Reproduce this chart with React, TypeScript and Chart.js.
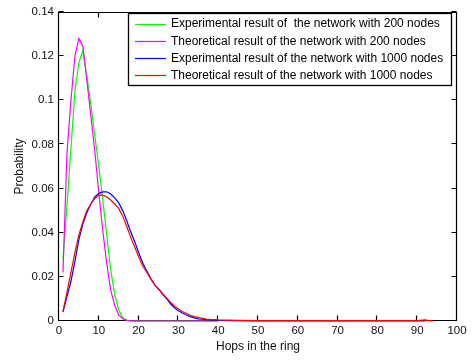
import React, { useEffect, useRef } from 'react';
import { Chart, registerables } from 'chart.js';

Chart.register(...registerables);

const legendLabels = [
  'Experimental result of  the network with 200 nodes',
  'Theoretical result of the network with 200 nodes',
  'Experimental result of the network with 1000 nodes',
  'Theoretical result of the network with 1000 nodes',
];
const seriesColors = ['#00ff00', '#ff00ff', '#0000ff', '#ff0000'];

const xTicks = [0, 10, 20, 30, 40, 50, 60, 70, 80, 90, 100];
const yTicks = [0, 0.02, 0.04, 0.06, 0.08, 0.1, 0.12, 0.14];

const hops200 = [1, 2, 3, 4, 5, 6, 7, 8, 9, 10, 11, 12, 13, 14, 15, 16, 17, 18, 19, 20, 25, 30, 35, 40];
const exp200 = [0.028, 0.052, 0.078, 0.104, 0.117, 0.1225, 0.111, 0.098, 0.084, 0.07, 0.055, 0.039, 0.023, 0.012, 0.005, 0.0015, 0.0004, 0.0001, 0, 0, 0, 0, 0, 0];
const theo200 = [0.022, 0.076, 0.1, 0.12, 0.128, 0.1245, 0.109, 0.093, 0.077, 0.058, 0.041, 0.026, 0.014, 0.007, 0.0028, 0.001, 0.0003, 0.0001, 0, 0, 0, 0, 0, 0];

const hopsExp1000 = [1, 2, 3, 4, 5, 6, 7, 8, 9, 10, 11, 12, 13, 14, 15, 16, 17, 18, 19, 20, 21, 22, 23, 24, 25, 26, 27, 28, 29, 30, 31, 32, 33, 34, 35, 36, 37, 38, 39, 40, 45, 50, 60, 70, 80, 90, 92];
const exp1000 = [0.004, 0.011, 0.018, 0.027, 0.037, 0.044, 0.049, 0.053, 0.0562, 0.0578, 0.0585, 0.0585, 0.0575, 0.0558, 0.0535, 0.05, 0.0455, 0.0405, 0.036, 0.031, 0.0265, 0.0228, 0.0195, 0.0165, 0.0145, 0.0122, 0.0102, 0.0078, 0.006, 0.0046, 0.0036, 0.0027, 0.002, 0.0014, 0.001, 0.0008, 0.0006, 0.0005, 0.0004, 0.0003, 0.0002, 0.0001, 0.0001, 0.0001, 0.0001, 0.0001, 0.0001];

const hopsTheo1000 = [1, 2, 3, 4, 5, 6, 7, 8, 9, 10, 11, 12, 13, 14, 15, 16, 17, 18, 19, 20, 21, 22, 23, 24, 25, 26, 27, 28, 29, 30, 31, 32, 33, 34, 35, 36, 37, 38, 39, 40, 45, 50, 60, 70, 80, 90, 92, 93, 94];
const theo1000 = [0.0045, 0.013, 0.022, 0.031, 0.039, 0.045, 0.05, 0.053, 0.0555, 0.057, 0.057, 0.0562, 0.0548, 0.053, 0.051, 0.0475, 0.043, 0.038, 0.0335, 0.0292, 0.025, 0.0222, 0.0192, 0.0165, 0.0145, 0.0125, 0.0105, 0.0085, 0.0068, 0.0054, 0.0043, 0.0034, 0.0026, 0.002, 0.0015, 0.0012, 0.0009, 0.0007, 0.0006, 0.0005, 0.0003, 0.0002, 0.0002, 0.0002, 0.0002, 0.0002, 0.0005, 0.0002, 0];

const FONT = "'Liberation Sans', Arial, Helvetica, sans-serif";

function toPoints(xs: number[], ys: number[]) {
  return xs.map((x, i) => ({ x, y: ys[i] }));
}

const framePlugin = {
  id: 'matlabFrame',
  beforeDatasetsDraw(chart: any) {
    const { ctx, chartArea } = chart;
    const xs = chart.scales.x;
    const ys = chart.scales.y;
    const l = Math.round(chartArea.left) - 0.5;
    const r = Math.round(chartArea.right) - 0.5;
    const t = Math.round(chartArea.top) + 0.5;
    const b = Math.round(chartArea.bottom) - 0.5;
    ctx.save();
    ctx.strokeStyle = '#000';
    ctx.lineWidth = 1.2;
    ctx.beginPath();
    ctx.rect(l, t, r - l, b - t);
    const tl = 5;
    xTicks.forEach((v) => {
      const px = Math.round(xs.getPixelForValue(v)) - 0.5;
      ctx.moveTo(px, b);
      ctx.lineTo(px, b - tl);
      ctx.moveTo(px, t);
      ctx.lineTo(px, t + tl);
    });
    yTicks.forEach((v) => {
      const py = Math.round(ys.getPixelForValue(v)) - 0.5;
      ctx.moveTo(l, py);
      ctx.lineTo(l + tl, py);
      ctx.moveTo(r, py);
      ctx.lineTo(r - tl, py);
    });
    ctx.stroke();
    ctx.restore();
  },
  afterDraw(chart: any) {
    const { ctx } = chart;
    const bx = 128.5, by = 13.5, bw = 323, bh = 72;
    ctx.save();
    ctx.fillStyle = '#fff';
    ctx.fillRect(bx, by, bw, bh);
    ctx.strokeStyle = '#000';
    ctx.lineWidth = 1.3;
    ctx.strokeRect(bx, by, bw, bh);
    ctx.font = `12px ${FONT}`;
    ctx.textBaseline = 'middle';
    ctx.textAlign = 'left';
    legendLabels.forEach((lab, i) => {
      const y = 23.5 + i * 17.3;
      ctx.lineWidth = 1.2;
      ctx.strokeStyle = seriesColors[i];
      ctx.beginPath();
      ctx.moveTo(135, Math.round(y) + 0.5);
      ctx.lineTo(166, Math.round(y) + 0.5);
      ctx.stroke();
      ctx.fillStyle = '#000';
      ctx.fillText(lab, 171, y + 0.5);
    });
    ctx.restore();
  },
};

export default function App() {
  const ref = useRef<HTMLCanvasElement | null>(null);
  useEffect(() => {
    if (!ref.current) return;
    const orders = [4, 3, 2, 1];
    const datas = [
      toPoints(hops200, exp200),
      toPoints(hops200, theo200),
      toPoints(hopsExp1000, exp1000),
      toPoints(hopsTheo1000, theo1000),
    ];
    const chart = new Chart(ref.current, {
      type: 'line',
      data: {
        datasets: datas.map((d, i) => ({
          label: legendLabels[i],
          data: d,
          borderColor: seriesColors[i],
          backgroundColor: seriesColors[i],
          borderWidth: 1.2,
          pointRadius: 0,
          tension: 0,
          fill: false,
          order: orders[i],
          clip: false as any,
        })),
      },
      options: {
        animation: false,
        responsive: false,
        devicePixelRatio: 1,
        layout: { padding: { top: 6, right: 19, left: 0, bottom: 0 } },
        plugins: { legend: { display: false }, tooltip: { enabled: false } },
        scales: {
          x: {
            type: 'linear',
            min: 0,
            max: 100,
            afterFit: (s: any) => { s.height = 42; },
            afterBuildTicks: (s: any) => { s.ticks = xTicks.map((v) => ({ value: v })); },
            grid: { display: false, drawTicks: false },
            border: { display: false },
            ticks: {
              color: '#111',
              font: { family: FONT, size: 11.5 },
              padding: 3,
              maxRotation: 0,
              autoSkip: false,
            },
            title: {
              display: true,
              text: 'Hops in the ring',
              color: '#111',
              font: { family: FONT, size: 12 },
              padding: { top: 0, bottom: 9 },
            },
          },
          y: {
            type: 'linear',
            min: 0,
            max: 0.14,
            afterFit: (s: any) => { s.width = 59; },
            afterBuildTicks: (s: any) => { s.ticks = yTicks.map((v) => ({ value: v })); },
            grid: { display: false, drawTicks: false },
            border: { display: false },
            ticks: {
              color: '#111',
              font: { family: FONT, size: 11.5 },
              padding: 5,
              autoSkip: false,
              callback: (v: any) => String(Math.round(Number(v) * 100) / 100),
            },
            title: {
              display: true,
              text: 'Probability',
              color: '#111',
              font: { family: FONT, size: 12 },
              padding: { top: 12, bottom: 0 },
            },
          },
        },
      },
      plugins: [framePlugin],
    });
    return () => chart.destroy();
  }, []);
  return (
    <div style={{ position: 'absolute', left: 0, top: 0, width: 476, height: 363, background: '#fff' }}>
      <canvas ref={ref} width={476} height={363} style={{ width: 476, height: 363, display: 'block' }} />
    </div>
  );
}
